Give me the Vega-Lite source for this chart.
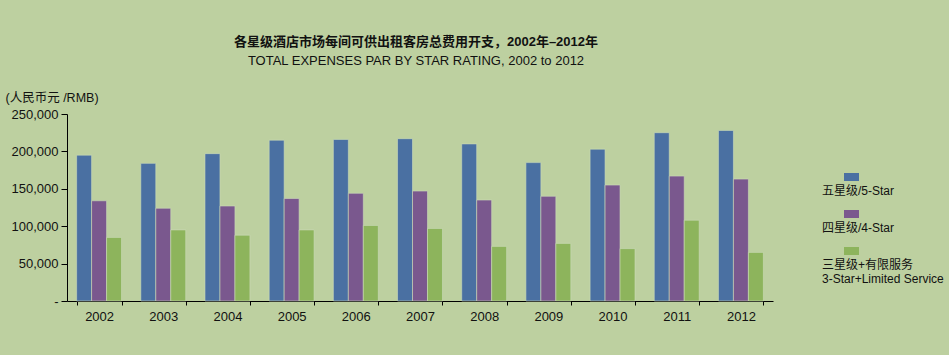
{
  "$schema": "https://vega.github.io/schema/vega-lite/v6.json",
  "width": 706,
  "height": 187,
  "autosize": {"type": "none"},
  "padding": {"left": 67, "top": 114, "right": 176, "bottom": 54},
  "background": "#bdd0a0",
  "config": {"view": {"stroke": null}, "font": "Liberation Sans, Noto Sans CJK SC"},
  "title": {
    "text": "各星级酒店市场每间可供出租客房总费用开支，2002年–2012年",
    "subtitle": "TOTAL EXPENSES PAR BY STAR RATING, 2002 to 2012",
    "anchor": "middle",
    "frame": "group",
    "dx": -4,
    "fontSize": 13,
    "fontWeight": "bold",
    "color": "#111111",
    "subtitleFontSize": 13,
    "subtitleColor": "#111111",
    "subtitlePadding": 6,
    "offset": 23
  },
  "data": {
    "values": [
      {"year": "2002", "series": "五星级/5-Star", "value": 195000},
      {"year": "2002", "series": "四星级/4-Star", "value": 134000},
      {"year": "2002", "series": "三星级+有限服务\n3-Star+Limited Service", "value": 85000},
      {"year": "2003", "series": "五星级/5-Star", "value": 184000},
      {"year": "2003", "series": "四星级/4-Star", "value": 124000},
      {"year": "2003", "series": "三星级+有限服务\n3-Star+Limited Service", "value": 95000},
      {"year": "2004", "series": "五星级/5-Star", "value": 197000},
      {"year": "2004", "series": "四星级/4-Star", "value": 127000},
      {"year": "2004", "series": "三星级+有限服务\n3-Star+Limited Service", "value": 88000},
      {"year": "2005", "series": "五星级/5-Star", "value": 215000},
      {"year": "2005", "series": "四星级/4-Star", "value": 137000},
      {"year": "2005", "series": "三星级+有限服务\n3-Star+Limited Service", "value": 95000},
      {"year": "2006", "series": "五星级/5-Star", "value": 216000},
      {"year": "2006", "series": "四星级/4-Star", "value": 144000},
      {"year": "2006", "series": "三星级+有限服务\n3-Star+Limited Service", "value": 101000},
      {"year": "2007", "series": "五星级/5-Star", "value": 217000},
      {"year": "2007", "series": "四星级/4-Star", "value": 147000},
      {"year": "2007", "series": "三星级+有限服务\n3-Star+Limited Service", "value": 97000},
      {"year": "2008", "series": "五星级/5-Star", "value": 210000},
      {"year": "2008", "series": "四星级/4-Star", "value": 135000},
      {"year": "2008", "series": "三星级+有限服务\n3-Star+Limited Service", "value": 73000},
      {"year": "2009", "series": "五星级/5-Star", "value": 185000},
      {"year": "2009", "series": "四星级/4-Star", "value": 140000},
      {"year": "2009", "series": "三星级+有限服务\n3-Star+Limited Service", "value": 77000},
      {"year": "2010", "series": "五星级/5-Star", "value": 203000},
      {"year": "2010", "series": "四星级/4-Star", "value": 155000},
      {"year": "2010", "series": "三星级+有限服务\n3-Star+Limited Service", "value": 70000},
      {"year": "2011", "series": "五星级/5-Star", "value": 225000},
      {"year": "2011", "series": "四星级/4-Star", "value": 167000},
      {"year": "2011", "series": "三星级+有限服务\n3-Star+Limited Service", "value": 108000},
      {"year": "2012", "series": "五星级/5-Star", "value": 228000},
      {"year": "2012", "series": "四星级/4-Star", "value": 163000},
      {"year": "2012", "series": "三星级+有限服务\n3-Star+Limited Service", "value": 65000}
    ]
  },
  "mark": {"type": "bar", "stroke": "#cddbbb", "strokeWidth": 0.6},
  "encoding": {
    "x": {
      "field": "year",
      "type": "nominal",
      "scale": {"paddingInner": 0.3, "paddingOuter": 0.15},
      "axis": {
        "title": null,
        "labelAngle": 0,
        "labelFontSize": 13,
        "labelColor": "#111111",
        "labelPadding": 5,
        "domainColor": "#000000",
        "domainWidth": 1,
        "tickColor": "#000000",
        "tickSize": 4,
        "tickBand": "extent"
      }
    },
    "xOffset": {
      "field": "series",
      "sort": ["五星级/5-Star", "四星级/4-Star", "三星级+有限服务\n3-Star+Limited Service"]
    },
    "y": {
      "field": "value",
      "type": "quantitative",
      "scale": {"domain": [0, 250000]},
      "axis": {
        "values": [0, 50000, 100000, 150000, 200000, 250000],
        "labelExpr": "datum.value == 0 ? '-' : format(datum.value, ',')",
        "grid": false,
        "labelFontSize": 13,
        "labelColor": "#111111",
        "labelPadding": 3,
        "domainColor": "#000000",
        "tickColor": "#000000",
        "tickSize": 6,
        "title": "(人民币元 /RMB)",
        "titleAngle": 0,
        "titleAlign": "left",
        "titleBaseline": "middle",
        "titleX": -62,
        "titleY": -17,
        "titleFontSize": 12.5,
        "titleFontWeight": "normal",
        "titleColor": "#111111"
      }
    },
    "color": {
      "field": "series",
      "type": "nominal",
      "scale": {
        "domain": ["五星级/5-Star", "四星级/4-Star", "三星级+有限服务\n3-Star+Limited Service"],
        "range": ["#4a70a2", "#7a588e", "#8db45c"]
      },
      "legend": {
        "orient": "none",
        "legendX": 753,
        "legendY": 71,
        "title": null,
        "padding": 0,
        "symbolType": "M3.6,-3.6H6.6V-2H3.6Z",
        "symbolSize": 100,
        "symbolStrokeWidth": 0,
        "symbolOpacity": 1,
        "labelOffset": -10,
        "labelFontSize": 12,
        "labelColor": "#111111",
        "labelLimit": 300,
        "labelExpr": "split(datum.label, '\\n')",
        "rowPadding": 13
      }
    }
  }
}
